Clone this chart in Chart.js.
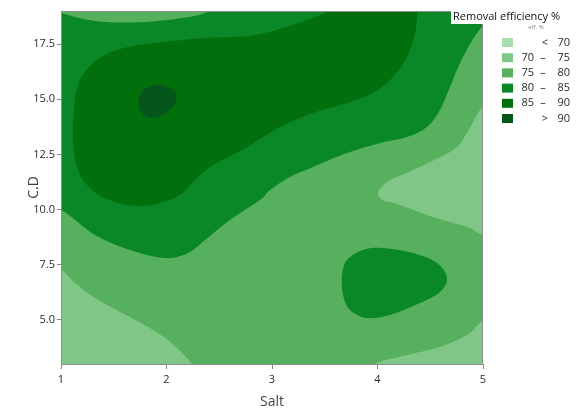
<!DOCTYPE html>
<html>
<head>
<meta charset="utf-8">
<script src="https://cdn.jsdelivr.net/npm/chart.js@4.4.0/dist/chart.umd.min.js"></script>
<style>
  html, body { margin: 0; padding: 0; background: #fff; }
</style>
</head>
<body>
<canvas id="chart" width="576" height="410"></canvas>
<script>
// axis ticks
const saltTicks = [1, 2, 3, 4, 5];
const cdTicks = [5.0, 7.5, 10.0, 12.5, 15.0, 17.5];

// contour levels, removal efficiency %
const levels = [70, 75, 80, 85, 90];
const bandColors = ['#a9ddb0', '#80c787', '#57b05d', '#0a8727', '#016f0b', '#04561a'];

// band outlines, as [salt, C.D]
const base7580 = [[0.7, 2.3], [5.3, 2.3], [5.3, 19.7], [0.7, 19.7]];
const low7075Left = [[1.0, 7.26], [1.133, 6.67], [1.322, 5.99], [1.578, 5.31], [1.825, 4.68],
  [2.014, 4.09], [2.147, 3.50], [2.223, 3.09], [2.27, 2.5], [0.8, 2.5], [0.8, 7.35]];
const low7075Right = [[5.0, 14.65], [4.848, 13.47], [4.716, 12.70], [4.336, 11.79], [4.090, 11.25],
  [4.005, 10.75], [4.052, 10.43], [4.213, 10.21], [4.526, 9.66], [4.848, 9.21], [5.0, 8.85],
  [5.2, 8.7], [5.2, 14.8]];
const low7075Corner = [[5.0, 4.95], [4.848, 4.31], [4.592, 3.77], [4.280, 3.41], [3.995, 3.04],
  [3.95, 2.5], [5.2, 2.5], [5.2, 5.0]];
const high8085Main = [[5.0, 18.3], [4.81, 16.91], [4.687, 15.55], [4.592, 14.51], [4.469, 13.74],
  [4.280, 13.29], [4.024, 13.02], [3.711, 12.56], [3.389, 11.93], [3.171, 11.48], [2.981, 10.89],
  [2.886, 10.43], [2.602, 9.53], [2.365, 8.62], [2.204, 8.03], [1.986, 7.80], [1.654, 8.17],
  [1.322, 8.85], [1.0, 9.98], [0.8, 10.0], [0.8, 19.4], [5.2, 19.4], [5.2, 18.3]];
const top7580Lens = [[0.97, 19.02], [1.133, 18.73], [1.417, 18.50], [1.796, 18.50], [2.147, 18.68],
  [2.365, 18.91], [2.5, 19.3], [1.0, 19.4]];
const blob8085 = [[3.664, 7.03], [3.711, 7.71], [3.863, 8.17], [4.052, 8.26], [4.336, 8.03],
  [4.564, 7.58], [4.659, 6.90], [4.592, 6.26], [4.403, 5.76], [4.118, 5.22], [3.900, 5.08],
  [3.739, 5.45], [3.673, 6.13]];
const high8590 = [[1.114, 13.15], [1.123, 14.51], [1.161, 15.65], [1.256, 16.42], [1.417, 17.01],
  [1.635, 17.37], [1.891, 17.55], [2.365, 17.78], [2.791, 17.87], [3.104, 18.23], [3.332, 18.59],
  [3.521, 18.95], [3.6, 19.4], [4.4, 19.4], [4.384, 18.95], [4.355, 18.00], [4.280, 16.91],
  [4.147, 16.01], [3.957, 15.28], [3.711, 14.83], [3.389, 14.38], [3.076, 13.74], [2.763, 12.83],
  [2.441, 12.02], [2.270, 11.34], [2.128, 10.66], [1.938, 10.30], [1.749, 10.16], [1.512, 10.34],
  [1.294, 10.89], [1.161, 11.79]];
const peak90 = [[1.730, 14.87], [1.777, 15.42], [1.891, 15.65], [2.014, 15.55], [2.090, 15.28],
  [2.081, 14.83], [2.005, 14.42], [1.891, 14.15], [1.777, 14.29], [1.739, 14.60]];

const legendTitle = 'Removal efficiency %';

function band(points, colorIndex, tension) {
  return {
    data: points.map(([x, y]) => ({ x, y })),
    backgroundColor: bandColors[colorIndex],
    tension: tension === undefined ? 0.4 : tension,
    showLine: false,
    pointRadius: 0,
    pointHoverRadius: 0
  };
}

// smooth closed outline through the points the scales placed
function tracePath(ctx, pts, tension) {
  const n = pts.length;
  ctx.moveTo(pts[0].x, pts[0].y);
  for (let i = 0; i < n; i++) {
    const p0 = pts[(i - 1 + n) % n], p1 = pts[i], p2 = pts[(i + 1) % n], p3 = pts[(i + 2) % n];
    if (!tension) { ctx.lineTo(p2.x, p2.y); continue; }
    ctx.bezierCurveTo(
      p1.x + (p2.x - p0.x) / 6, p1.y + (p2.y - p0.y) / 6,
      p2.x - (p3.x - p1.x) / 6, p2.y - (p3.y - p1.y) / 6,
      p2.x, p2.y);
  }
}

const contourFill = {
  id: 'contourFill',
  beforeDatasetsDraw(chart) {
    const { ctx, chartArea: a } = chart;
    ctx.save();
    ctx.beginPath();
    ctx.rect(a.left, a.top, a.right - a.left, a.bottom - a.top);
    ctx.clip();
    chart.data.datasets.forEach((ds, i) => {
      const pts = chart.getDatasetMeta(i).data.map(p => ({ x: p.x, y: p.y }));
      ctx.beginPath();
      tracePath(ctx, pts, ds.tension);
      ctx.closePath();
      ctx.fillStyle = ds.backgroundColor;
      ctx.fill();
    });
    ctx.restore();
  }
};

const frameAndLegend = {
  id: 'frameAndLegend',
  afterDraw(chart) {
    const { ctx, chartArea: a } = chart;
    ctx.save();
    ctx.strokeStyle = '#8e8e8e';
    ctx.lineWidth = 1;
    ctx.strokeRect(a.left + 0.5, a.top + 0.5, a.right - a.left - 1, a.bottom - a.top);

    // legend box
    const lx = a.right + 19;
    ctx.fillStyle = '#fff';
    ctx.fillRect(a.right - 32, 9, 126, 15);
    ctx.fillStyle = '#111';
    ctx.font = '11px "Open Sans", sans-serif';
    ctx.textBaseline = 'middle';
    ctx.textAlign = 'left';
    ctx.fillText(legendTitle, a.right - 30, 16.5);
    ctx.fillStyle = '#888';
    ctx.font = '6px "Open Sans", sans-serif';
    ctx.textAlign = 'center';
    ctx.fillText('eff. %', lx + 34, 27);

    ctx.font = '11px "Open Sans", sans-serif';
    for (let i = 0; i <= levels.length; i++) {
      const y = 42.5 + i * 15.2;
      ctx.fillStyle = bandColors[i];
      ctx.fillRect(lx, y - 4.5, 11, 9);
      ctx.fillStyle = '#2a2a2a';
      if (i === 0 || i === levels.length) {
        ctx.textAlign = 'center';
        ctx.fillText(i === 0 ? '<' : '>', lx + 43, y);
        ctx.textAlign = 'right';
        ctx.fillText(String(levels[i === 0 ? 0 : levels.length - 1]), lx + 68, y);
      } else {
        ctx.textAlign = 'right';
        ctx.fillText(String(levels[i - 1]), lx + 32, y);
        ctx.textAlign = 'center';
        ctx.fillText('\u2013', lx + 41, y);
        ctx.textAlign = 'right';
        ctx.fillText(String(levels[i]), lx + 68, y);
      }
    }
    ctx.restore();
  }
};

Chart.defaults.font.family = '"Open Sans", sans-serif';
Chart.defaults.color = '#333';

new Chart(document.getElementById('chart'), {
  type: 'scatter',
  data: {
    datasets: [
      band(base7580, 2, 0),
      band(low7075Left, 1),
      band(low7075Right, 1),
      band(low7075Corner, 1),
      band(high8085Main, 3),
      band(top7580Lens, 2),
      band(blob8085, 3),
      band(high8590, 4),
      band(peak90, 5)
    ]
  },
  options: {
    responsive: false,
    animation: false,
    layout: { padding: { top: 11, right: 93, left: 0, bottom: 0 } },
    plugins: { legend: { display: false }, tooltip: { enabled: false } },
    events: [],
    scales: {
      x: {
        type: 'linear',
        min: 1,
        max: 5,
        afterBuildTicks: s => { s.ticks = saltTicks.map(v => ({ value: v })); },
        afterFit: s => { s.height = 46; },
        ticks: { font: { size: 11 }, padding: 4, color: '#2a2a2a' },
        grid: { drawOnChartArea: false, tickLength: 5, color: '#888' },
        border: { color: '#8e8e8e' },
        title: { display: true, text: 'Salt', font: { size: 14 }, color: '#444', padding: { top: 0, bottom: 0 } }
      },
      y: {
        type: 'linear',
        min: 3,
        max: 19,
        afterBuildTicks: s => { s.ticks = cdTicks.map(v => ({ value: v })); },
        afterFit: s => { s.width = 61; },
        ticks: { font: { size: 11 }, padding: 2, color: '#2a2a2a', callback: v => v.toFixed(1) },
        grid: { drawOnChartArea: false, tickLength: 4, color: '#888' },
        border: { color: '#8e8e8e' },
        title: { display: true, text: 'C.D', font: { size: 14 }, color: '#444', padding: { top: 26, bottom: 4 } }
      }
    }
  },
  plugins: [contourFill, frameAndLegend]
});
</script>
</body>
</html>
